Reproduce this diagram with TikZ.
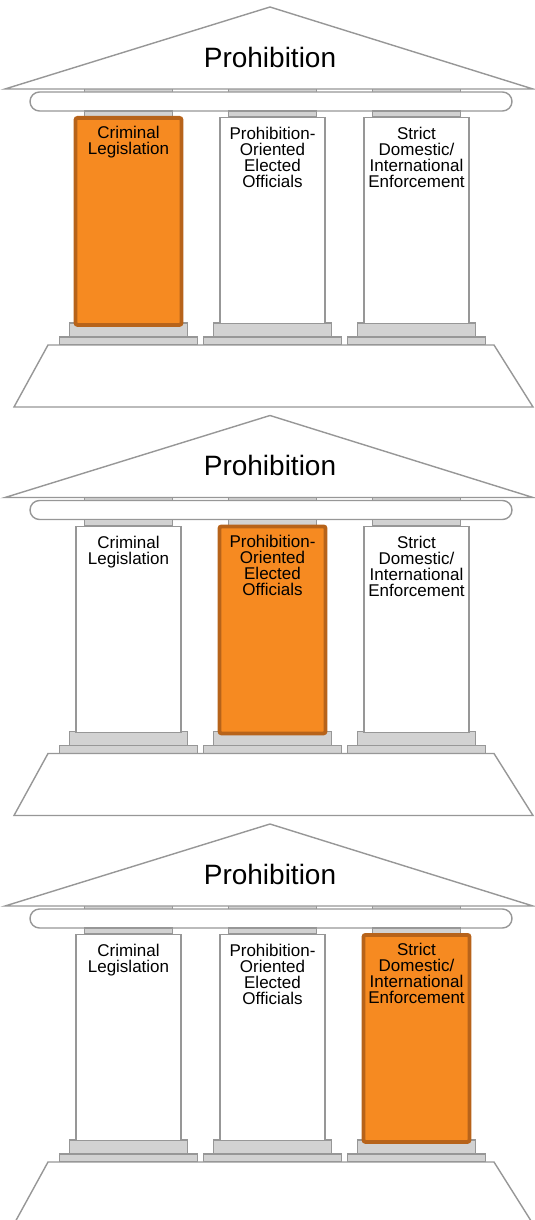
\documentclass[tikz,border=0pt]{standalone}
\usepackage{fontspec}
\setmainfont{Liberation Sans}
\definecolor{edgegray}{HTML}{979797}
\definecolor{capgray}{HTML}{D2D2D2}
\definecolor{pillarorange}{HTML}{F68A21}
\definecolor{pillaredge}{HTML}{B7631A}
\tikzset{
  outline/.style={draw=edgegray, line width=1.4pt, fill=white},
  capital/.style={draw=edgegray, line width=1.2pt, fill=capgray},
  roofname/.style={font=\fontsize{28}{30}\selectfont},
  pillar/.style={minimum width=105pt, minimum height=206pt, inner sep=0pt, anchor=north},
  plain/.style={outline},
  hot/.style={fill=pillarorange, draw=pillaredge, line width=3.8pt, rounded corners=2pt,
    minimum width=106pt, minimum height=207pt, yshift=1pt},
  pillartext/.style={anchor=north, yshift=-10pt, align=center, inner sep=0pt,
    font=\fontsize{17}{16}\selectfont}
}
\begin{document}
\begin{tikzpicture}[x=1pt,y=-1pt]
  \useasboundingbox (0,0) rectangle (535,1220);
  % three temples, one pillar picked out in each
  \foreach \t/\hot in {0/1,1/2,2/3}
  {
    \begin{scope}[shift={(0,408.5*\t)}]
      % top capitals, behind the beam
      \foreach \c [evaluate=\c as \cx using 144*\c-15.5] in {1,2,3}
        \draw[capital] (\cx-44,87) rectangle ++(88,7);
      % roof and beam
      \draw[outline] (5,89) -- (270,7) -- (533,89) -- cycle;
      \node[roofname] (roof\t) at (270,57) {Prohibition};
      \draw[outline, rounded corners=9.5pt] (30,92) rectangle (512,111);
      % capitals and plinths
      \foreach \c [evaluate=\c as \cx using 144*\c-15.5] in {1,2,3}
      {
        \draw[capital] (\cx-44,111) rectangle ++(88,6);
        \draw[capital] (\cx-59,323) rectangle ++(118,14);
        \draw[capital] (\cx-69,337) rectangle ++(138,8);
      }
      % base
      \draw[outline] (48,345) -- (494,345) -- (533,407) -- (14,407) -- cycle;
      % pillars
      \foreach \c/\txt [evaluate=\c as \cx using 144*\c-15.5] in
        {1/{Criminal\\Legislation},
         2/{Prohibition-\\Oriented\\Elected\\Officials},
         3/{Strict\\Domestic/\\International\\Enforcement}}
      {
        \ifnum\c=\hot \def\pstyle{hot}\else \def\pstyle{plain}\fi
        \node[pillar, \pstyle, label={[pillartext]north:{\txt}}] (pillar\t\c) at (\cx,117) {};
      }
    \end{scope}
  }
\end{tikzpicture}
\end{document}
